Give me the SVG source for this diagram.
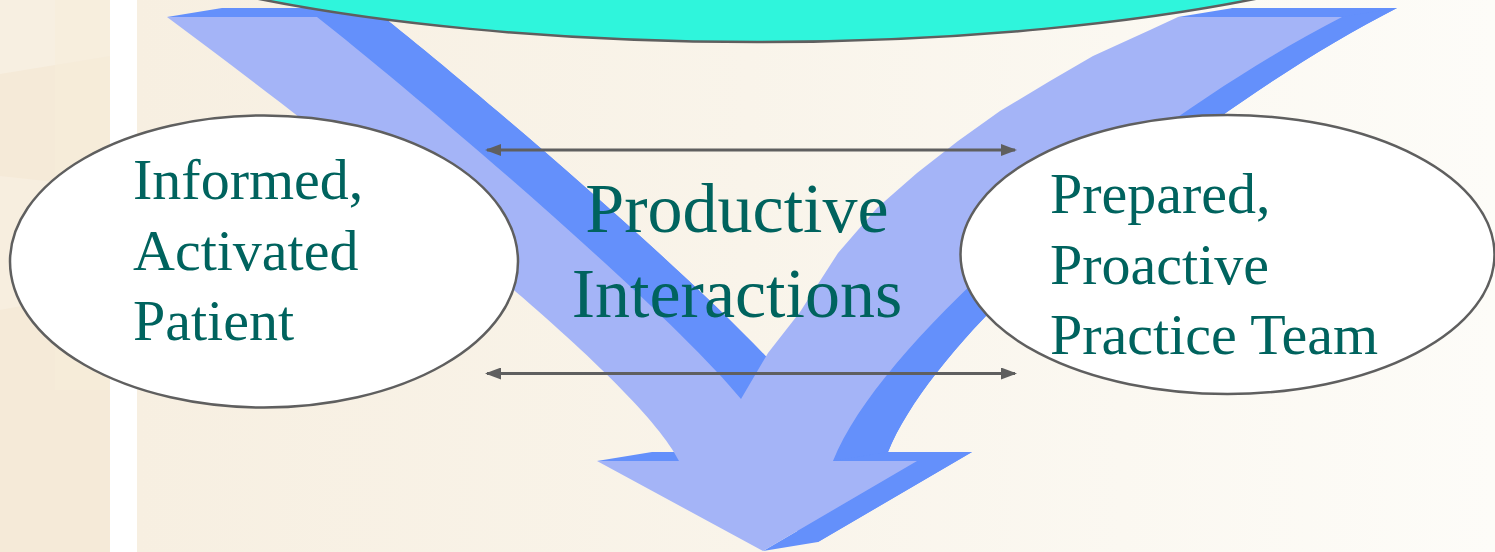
<svg xmlns="http://www.w3.org/2000/svg" xmlns:xlink="http://www.w3.org/1999/xlink" width="1495" height="552" viewBox="0 0 1495 552">
  <style>
    .node { fill: #FFFFFF; stroke: #5F5F5F; stroke-width: 2.5; }
    .label { font-family: "Liberation Serif", "Times New Roman", serif; fill: #00635E; }
    .small { font-size: 58px; }
    .big { font-size: 70px; }
    .conn { stroke: #5F5F5F; stroke-width: 3; fill: none; }
    .dark { fill: #6490FB; }
    .light { fill: #A4B4F7; }
  </style>
  <defs>
    <linearGradient id="bg" x1="137" y1="0" x2="1495" y2="0" gradientUnits="userSpaceOnUse">
      <stop offset="0" stop-color="#F7EFE1"/>
      <stop offset="0.45" stop-color="#F9F4EA"/>
      <stop offset="1" stop-color="#FDFCF8"/>
    </linearGradient>
    <marker id="ah" viewBox="0 0 16 12" refX="14" refY="6" markerWidth="16" markerHeight="12" markerUnits="userSpaceOnUse" orient="auto-start-reverse">
      <path d="M0,0 L16,6 L0,12 Z" fill="#5F5F5F"/>
    </marker>
    <path id="arrowShape" d="M167,17 L317,17 C420,98 666,308 741,399 L768,353 L800,312 L838,253 L877,208 L917,173 L958,141 L1000,111 L1050,81 L1093,56 L1150,30 L1178,17 L1342,17 C1150,115 885,331 833,461 L917,461 L763,551 L597,461 L679,461 C634,371 327,136 167,17 Z"/>
  </defs>

  <!-- background -->
  <rect x="0" y="0" width="1495" height="552" fill="url(#bg)"/>
  <rect x="0" y="0" width="110" height="552" fill="#F5EAD8"/>
  <polygon points="0,0 110,0 110,56 0,74" fill="#F7EFE1"/>
  <polygon points="0,176 55,182 55,300 0,310" fill="#F7EEDF"/>
  <polygon points="55,0 110,0 110,390 55,390" fill="#F6ECDB" opacity="0.6"/>
  <rect x="110" y="0" width="27" height="552" fill="#FFFFFF"/>

  <!-- big V arrow: extruded side (dark) then front face (light) -->
  <g id="flow-arrow">
    <use xlink:href="#arrowShape" class="dark" transform="translate(55,-9)"/>
    <path class="dark" d="M167,17 L317,17 L372,8 L222,8 Z"/>
    <path class="dark" d="M317,17 C420,98 666,308 741,399 L796,390 C721,299 475,89 372,8 Z"/>
    <path class="dark" d="M1178,17 L1342,17 L1397,8 L1233,8 Z"/>
    <path class="dark" d="M1342,17 C1150,115 885,331 833,461 L888,452 C940,322 1205,106 1397,8 Z"/>
    <path class="dark" d="M833,461 L917,461 L763,551 L818,542 L972,452 L888,452 Z"/>
    <path class="dark" d="M597,461 L679,461 L734,452 L652,452 Z"/>
    <use xlink:href="#arrowShape" class="light"/>
  </g>

  <!-- top node -->
  <g id="top-node">
    <ellipse cx="757" cy="-145" rx="780" ry="187" fill="#2FF5DC" stroke="#5F5F5F" stroke-width="2.5"/>
  </g>

  <!-- left node -->
  <g id="patient">
    <ellipse class="node" cx="264" cy="261.5" rx="254" ry="146"/>
    <text class="label small" x="133" y="199">Informed,</text>
    <text class="label small" x="133" y="269.5">Activated</text>
    <text class="label small" x="133" y="340">Patient</text>
  </g>

  <!-- right node -->
  <g id="team">
    <ellipse class="node" cx="1227.5" cy="254.5" rx="267" ry="139.5"/>
    <text class="label small" x="1050" y="213">Prepared,</text>
    <text class="label small" x="1050" y="283.5">Proactive</text>
    <text class="label small" x="1050" y="354">Practice Team</text>
  </g>

  <!-- center label -->
  <g id="interactions">
    <text class="label big" x="737" y="232" text-anchor="middle">Productive</text>
    <text class="label big" x="737" y="317" text-anchor="middle">Interactions</text>
  </g>

  <!-- connectors -->
  <g id="connectors">
    <line class="conn" x1="487" y1="150" x2="1015" y2="150" marker-start="url(#ah)" marker-end="url(#ah)"/>
    <line class="conn" x1="487" y1="373.5" x2="1015" y2="373.5" marker-start="url(#ah)" marker-end="url(#ah)"/>
  </g>
</svg>
